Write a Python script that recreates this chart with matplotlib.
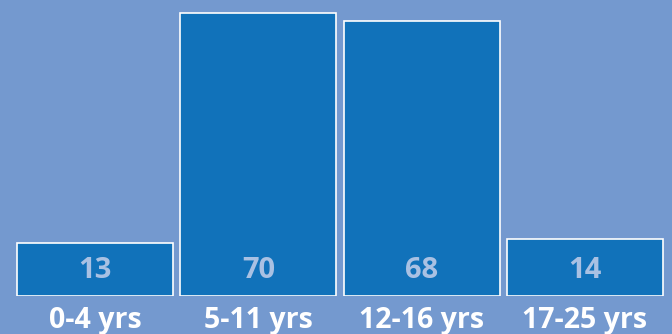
import matplotlib.pyplot as plt

# Data
categories = ['0-4 yrs', '5-11 yrs', '12-16 yrs', '17-25 yrs']
values = [13, 70, 68, 14]

bg = '#7499cf'
bar_color = '#1172ba'
value_color = '#a9c1e3'

plt.rcParams['font.family'] = ['Open Sans', 'DejaVu Sans']

fig = plt.figure(figsize=(6.72, 3.34), dpi=100, facecolor=bg)
ax = fig.add_axes([0.02, 0.114, 0.972, 0.886])
ax.set_facecolor(bg)

x = range(len(categories))
ax.bar(x, values, width=0.955, color=bar_color, edgecolor='white', linewidth=1.2)

# Value labels inside bars near the bottom
for i, v in enumerate(values):
    ax.text(i, 6.3, str(v), ha='center', va='center', fontsize=21,
            fontweight='bold', color=value_color)

ax.set_xlim(-0.5, len(categories) - 0.5)
ax.set_ylim(0, 73.3)
ax.set_xticks(list(x))
ax.set_xticklabels(categories, fontsize=20.5, fontweight='bold', color='white')
ax.tick_params(axis='x', length=0, pad=7)
ax.set_yticks([])
for s in ax.spines.values():
    s.set_visible(False)

fig.savefig('out.png', dpi=100, facecolor=bg)
